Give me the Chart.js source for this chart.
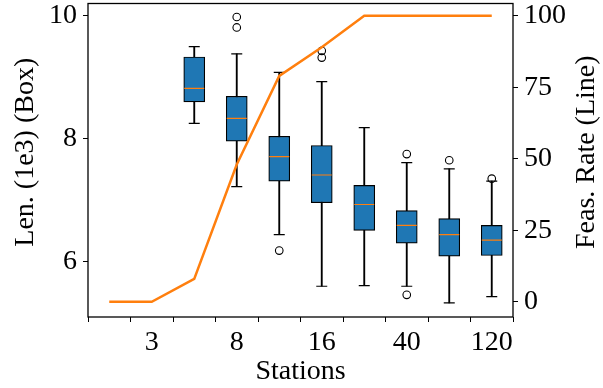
<!DOCTYPE html>
<html>
<head>
<meta charset="utf-8">
<script src="https://cdn.jsdelivr.net/npm/chart.js@4/dist/chart.umd.min.js"></script>
<style>
  html, body { margin: 0; padding: 0; background: #fff; }
  #wrap { width: 603px; height: 388px; }
</style>
</head>
<body>
<div id="wrap"><canvas id="c" width="603" height="388"></canvas></div>
<script>
// ---- data ----
const tickLabels = ['', '3', '', '8', '', '16', '', '40', '', '120'];
const feasRate   = [0, 0, 8, 48, 79, 89, 100, 100, 100, 100];
const whiskerLow  = [null, null, 8.25, 7.22, 6.44, 5.60, 5.61, 5.60, 5.33, 5.43];
const q1          = [null, null, 8.60, 7.96, 7.31, 6.96, 6.51, 6.30, 6.09, 6.10];
const median      = [null, null, 8.82, 8.33, 7.71, 7.41, 6.93, 6.59, 6.44, 6.35];
const q3          = [null, null, 9.33, 8.69, 8.04, 7.89, 7.24, 6.83, 6.70, 6.59];
const whiskerHigh = [null, null, 9.50, 9.38, 9.08, 8.93, 8.18, 7.61, 7.51, 7.31];
const outliersA   = [null, null, null, 9.98, 6.18, 9.43, null, 7.75, 7.65, 7.35];
const outliersB   = [null, null, null, 9.81, null, 9.32, null, 5.46, null, null];
const leftTicks  = [6, 8, 10];
const rightTicks = [0, 25, 50, 75, 100];
const leftTitle  = 'Len. (1e3) (Box)';
const rightTitle = 'Feas. Rate (Line)';

const FONT = { family: "'Liberation Serif', 'Times New Roman', serif", size: 28 };
const BLUE = '#1f77b4', ORANGE = '#ff7f0e';

const range = (a, b) => a.map((v, i) => (v == null || b[i] == null) ? null : [v, b[i]]);
const noPad = (s) => { s.paddingTop = 0; s.paddingBottom = 0; s.paddingLeft = 0; s.paddingRight = 0; };

function vTitle(ctx, text, x, y) {
  ctx.save();
  ctx.fillStyle = '#000';
  ctx.font = FONT.size + 'px ' + FONT.family;
  ctx.textAlign = 'center';
  ctx.textBaseline = 'middle';
  ctx.translate(x, y);
  ctx.rotate(-Math.PI / 2);
  ctx.fillText(text, 0, 0);
  ctx.restore();
}

const framePlugin = {
  id: 'frame',
  afterDatasetsDraw(chart) {
    const { ctx, chartArea: a } = chart;
    ctx.save();
    ctx.strokeStyle = '#000';
    ctx.lineWidth = 1.3;
    ctx.strokeRect(a.left, a.top, a.right - a.left, a.bottom - a.top);
    ctx.restore();
  },
  afterDraw(chart) {
    const { ctx, chartArea: a } = chart;
    const mid = (a.top + a.bottom) / 2 - 8;
    vTitle(ctx, leftTitle, chart.scales.y.left + 26, mid);
    vTitle(ctx, rightTitle, chart.scales.y2.right - 16, mid);
  }
};

new Chart(document.getElementById('c'), {
  data: {
    labels: tickLabels,
    datasets: [
      { type: 'line', label: 'Feas. Rate', data: feasRate, yAxisID: 'y2',
        borderColor: ORANGE, borderWidth: 2.5, pointRadius: 0, tension: 0, order: 1 },
      { type: 'line', label: 'outA', data: outliersA, yAxisID: 'y', showLine: false,
        pointStyle: 'circle', pointRadius: 3.8, pointBorderWidth: 1.1,
        pointBorderColor: '#000', pointBackgroundColor: 'rgba(0,0,0,0)', order: 2 },
      { type: 'line', label: 'outB', data: outliersB, yAxisID: 'y', showLine: false,
        pointStyle: 'circle', pointRadius: 3.8, pointBorderWidth: 1.1,
        pointBorderColor: '#000', pointBackgroundColor: 'rgba(0,0,0,0)', order: 2 },
      { type: 'line', label: 'median', data: median, yAxisID: 'y', showLine: false,
        pointStyle: 'line', pointRadius: 10, pointBorderWidth: 1.2,
        pointBorderColor: ORANGE, order: 2 },
      { type: 'line', label: 'capLow', data: whiskerLow, yAxisID: 'y', showLine: false,
        pointStyle: 'line', pointRadius: 5.5, pointBorderWidth: 1.2,
        pointBorderColor: '#000', order: 3 },
      { type: 'line', label: 'capHigh', data: whiskerHigh, yAxisID: 'y', showLine: false,
        pointStyle: 'line', pointRadius: 5.5, pointBorderWidth: 1.2,
        pointBorderColor: '#000', order: 3 },
      { type: 'bar', label: 'box', data: range(q1, q3), yAxisID: 'y', grouped: false,
        backgroundColor: BLUE, borderColor: '#000', borderWidth: 1.2, borderSkipped: false,
        barThickness: 21, order: 4 },
      { type: 'bar', label: 'whisker', data: range(whiskerLow, whiskerHigh), yAxisID: 'y', grouped: false,
        backgroundColor: '#000', borderWidth: 0, barThickness: 1.2, order: 5 }
    ]
  },
  options: {
    responsive: false,
    animation: false,
    events: [],
    layout: { autoPadding: false, padding: { top: 3.5, left: 0, right: 0, bottom: 0 } },
    plugins: { legend: { display: false }, tooltip: { enabled: false } },
    scales: {
      x: {
        type: 'category', offset: true,
        grid: { display: true, drawOnChartArea: false, drawTicks: true, tickLength: 5, color: '#000', lineWidth: 1 },
        border: { display: false },
        ticks: { color: '#000', font: FONT, padding: 4, maxRotation: 0, autoSkip: false },
        title: { display: true, text: 'Stations', color: '#000', font: FONT, padding: { top: 0, bottom: 0 } },
        afterFit(s) { s.height = 71; noPad(s); }
      },
      y: {
        type: 'linear', position: 'left', min: 5.1, max: 10.2,
        afterBuildTicks(s) { s.ticks = leftTicks.map(v => ({ value: v })); },
        grid: { display: true, drawOnChartArea: false, drawTicks: true, tickLength: 5, color: '#000', lineWidth: 1 },
        border: { display: false },
        ticks: { color: '#000', font: FONT, padding: 6 },
        title: { display: false },
        afterFit(s) { s.width = 88; noPad(s); }
      },
      y2: {
        type: 'linear', position: 'right', min: -5.3, max: 104.3,
        afterBuildTicks(s) { s.ticks = rightTicks.map(v => ({ value: v })); },
        grid: { display: true, drawOnChartArea: false, drawTicks: true, tickLength: 5, color: '#000', lineWidth: 1 },
        border: { display: false },
        ticks: { color: '#000', font: FONT, padding: 6 },
        title: { display: false },
        afterFit(s) { s.width = 90; noPad(s); }
      }
    }
  },
  plugins: [framePlugin]
});
</script>
</body>
</html>
